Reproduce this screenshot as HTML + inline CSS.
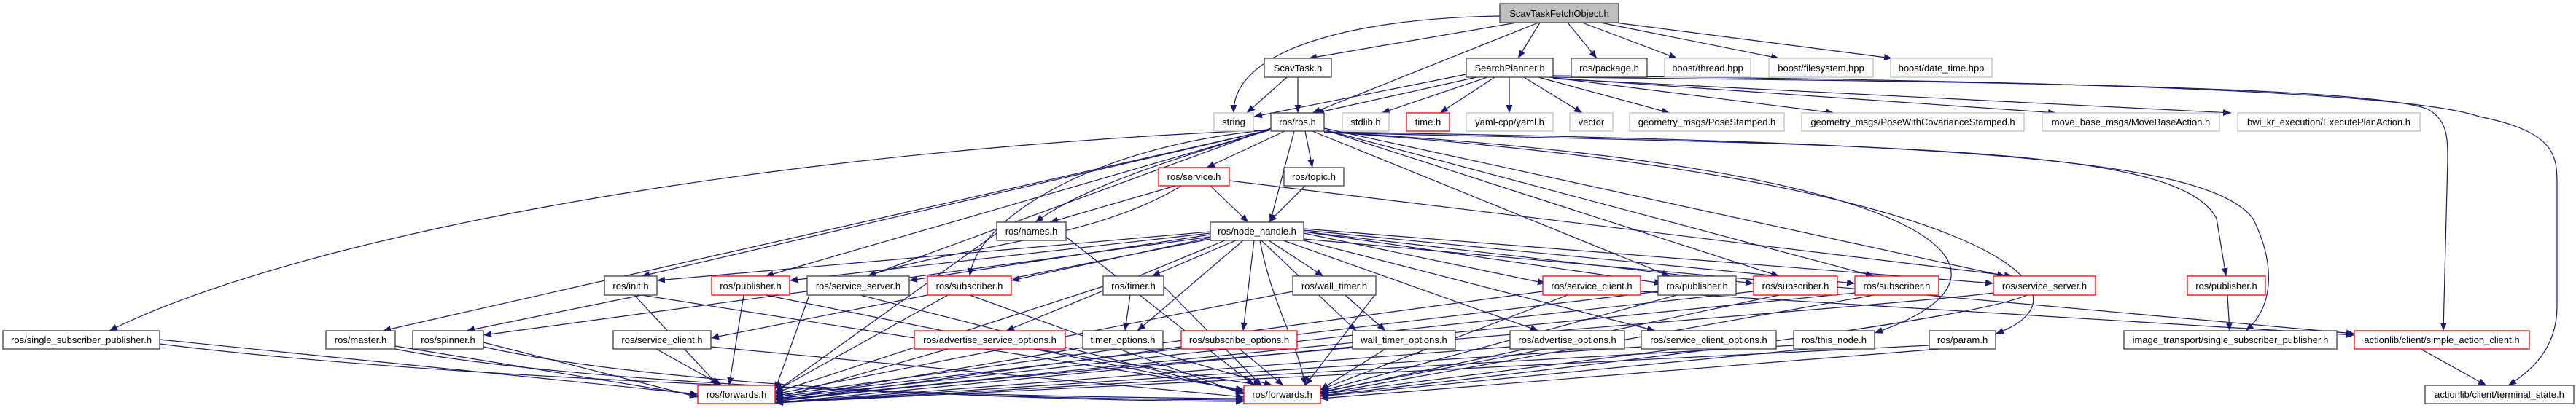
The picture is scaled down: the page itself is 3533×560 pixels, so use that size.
<!DOCTYPE html>
<html><head><meta charset="utf-8"><style>
html,body{margin:0;padding:0;background:#fff;}
svg{display:block;}
text{font-family:"Liberation Sans",sans-serif;font-size:13px;fill:#000;}
.e{stroke:#191970;stroke-width:1.2;fill:none;marker-end:url(#ar);}
</style></head><body>
<svg width="3533" height="560" viewBox="0 0 3533 560" xmlns="http://www.w3.org/2000/svg">
<defs><marker id="ar" markerUnits="userSpaceOnUse" markerWidth="12" markerHeight="10" refX="11" refY="4.5" orient="auto"><path d="M0,0 L11,4.5 L0,9 z" fill="#191970"/></marker></defs>
<g>
<!-- A edges -->
<line class="e" x1="2080" y1="31" x2="1795" y2="80"/>
<line class="e" x1="2112" y1="31" x2="2082" y2="80"/>
<line class="e" x1="2150" y1="31" x2="2190" y2="80"/>
<line class="e" x1="2170" y1="31" x2="2300" y2="80"/>
<line class="e" x1="2195" y1="31" x2="2440" y2="80"/>
<line class="e" x1="2215" y1="31" x2="2595" y2="80"/>
<line class="e" x1="2110" y1="31" x2="1800" y2="155"/>
<path class="e" d="M2057,22 C1850,25 1690,70 1692,155"/>
<!-- B -->
<line class="e" x1="1765" y1="106" x2="1710" y2="155"/>
<line class="e" x1="1780" y1="106" x2="1780" y2="155"/>
<!-- C -->
<line class="e" x1="2011" y1="102" x2="1720" y2="160"/>
<line class="e" x1="2025" y1="106" x2="1805" y2="155"/>
<line class="e" x1="2040" y1="106" x2="1895" y2="155"/>
<line class="e" x1="2050" y1="106" x2="1975" y2="155"/>
<line class="e" x1="2070" y1="106" x2="2070" y2="155"/>
<line class="e" x1="2090" y1="106" x2="2170" y2="155"/>
<line class="e" x1="2110" y1="106" x2="2290" y2="155"/>
<line class="e" x1="2125" y1="106" x2="2515" y2="155"/>
<line class="e" x1="2130" y1="107" x2="2820" y2="155"/>
<line class="e" x1="2130" y1="108" x2="3060" y2="155"/>
<path class="e" d="M2130,106 C2700,112 3250,118 3330,150 C3357,165 3357,190 3357,220 L3351,454"/>
<path class="e" d="M2130,104 C2800,110 3300,125 3400,160 C3500,180 3507,210 3507,250 L3507,420 C3507,480 3470,510 3440,529"/>
<!-- I -->
<line class="e" x1="1762" y1="180" x2="1655" y2="230"/>
<line class="e" x1="1790" y1="180" x2="1800" y2="230"/>
<line class="e" x1="1775" y1="180" x2="1742" y2="305"/>
<path class="e" d="M1743,178 C1600,220 1480,260 1420,305"/>
<line class="e" x1="1743" y1="178" x2="880" y2="379"/>
<line class="e" x1="1743" y1="178" x2="1050" y2="379"/>
<line class="e" x1="1743" y1="176" x2="1190" y2="379"/>
<path class="e" d="M1743,178 C1500,200 1340,300 1330,379"/>
<path class="e" d="M1743,178 C1000,210 400,330 150,454"/>
<line class="e" x1="1743" y1="178" x2="525" y2="454"/>
<line class="e" x1="1800" y1="180" x2="2290" y2="379"/>
<line class="e" x1="1816" y1="178" x2="2440" y2="379"/>
<line class="e" x1="1816" y1="178" x2="2570" y2="379"/>
<line class="e" x1="1816" y1="176" x2="2750" y2="379"/>
<path class="e" d="M1816,182 C2600,200 2990,200 3040,300 L3053,379"/>
<path class="e" d="M1816,181 C2700,195 3030,220 3090,300 C3120,360 3120,420 3080,454"/>
<path class="e" d="M1816,181 C2700,230 2800,380 2571,457"/>
<path class="e" d="M1816,181 C2700,240 2900,400 2737,458"/>
<!-- R,S -->
<line class="e" x1="1612" y1="255" x2="1440" y2="305"/>
<line class="e" x1="1660" y1="255" x2="1712" y2="305"/>
<path class="e" d="M1620,255 C1500,330 1300,340 1190,379"/>
<line class="e" x1="1686" y1="248" x2="2760" y2="379"/>
<line class="e" x1="1790" y1="255" x2="1740" y2="305"/>
<!-- T -->
<line class="e" x1="1367" y1="320" x2="1063" y2="538"/>
<line class="e" x1="1462" y1="325" x2="1720" y2="529"/>
<!-- U -->
<line class="e" x1="1660" y1="318" x2="901" y2="385"/>
<line class="e" x1="1660" y1="320" x2="1083" y2="385"/>
<line class="e" x1="1660" y1="322" x2="1247" y2="385"/>
<line class="e" x1="1665" y1="325" x2="1387" y2="385"/>
<line class="e" x1="1695" y1="330" x2="1580" y2="379"/>
<line class="e" x1="1740" y1="330" x2="1815" y2="379"/>
<line class="e" x1="1788" y1="320" x2="2120" y2="389"/>
<line class="e" x1="1788" y1="318" x2="2280" y2="389"/>
<line class="e" x1="1788" y1="318" x2="2405" y2="389"/>
<line class="e" x1="1788" y1="316" x2="2544" y2="389"/>
<line class="e" x1="1788" y1="314" x2="2734" y2="389"/>
<line class="e" x1="1660" y1="325" x2="663" y2="460"/>
<line class="e" x1="1665" y1="327" x2="975" y2="464"/>
<line class="e" x1="1680" y1="330" x2="1380" y2="454"/>
<line class="e" x1="1705" y1="330" x2="1560" y2="454"/>
<line class="e" x1="1720" y1="330" x2="1705" y2="454"/>
<line class="e" x1="1730" y1="330" x2="1860" y2="454"/>
<line class="e" x1="1760" y1="330" x2="2110" y2="454"/>
<line class="e" x1="1788" y1="330" x2="2270" y2="454"/>
<line class="e" x1="1788" y1="328" x2="3229" y2="458"/>
<path class="e" d="M1728,330 C1745,420 1780,470 1790,529"/>
<!-- row 6 -->
<line class="e" x1="880" y1="405" x2="640" y2="454"/>
<line class="e" x1="870" y1="405" x2="985" y2="529"/>
<line class="e" x1="880" y1="405" x2="1706" y2="535"/>
<line class="e" x1="1020" y1="405" x2="1000" y2="529"/>
<line class="e" x1="1050" y1="405" x2="1706" y2="537"/>
<line class="e" x1="1110" y1="405" x2="1063" y2="535"/>
<line class="e" x1="1180" y1="405" x2="1706" y2="539"/>
<line class="e" x1="1300" y1="405" x2="1063" y2="537"/>
<line class="e" x1="1330" y1="405" x2="1706" y2="541"/>
<line class="e" x1="1550" y1="405" x2="1543" y2="454"/>
<line class="e" x1="1513" y1="393" x2="1063" y2="539"/>
<line class="e" x1="1596" y1="393" x2="1730" y2="529"/>
<line class="e" x1="1845" y1="405" x2="1900" y2="454"/>
<line class="e" x1="1773" y1="400" x2="1063" y2="541"/>
<line class="e" x1="1887" y1="403" x2="1790" y2="529"/>
<line class="e" x1="2116" y1="400" x2="1063" y2="543"/>
<line class="e" x1="2150" y1="405" x2="1811" y2="535"/>
<line class="e" x1="2274" y1="400" x2="1063" y2="545"/>
<line class="e" x1="2300" y1="405" x2="1811" y2="537"/>
<line class="e" x1="2405" y1="400" x2="1063" y2="547"/>
<line class="e" x1="2440" y1="405" x2="1811" y2="539"/>
<line class="e" x1="2544" y1="402" x2="1063" y2="549"/>
<line class="e" x1="2570" y1="405" x2="1811" y2="541"/>
<path class="e" d="M2734,402 C2600,420 1500,500 1063,551"/>
<path class="e" d="M2780,405 C2700,440 2200,500 1811,543"/>
<line class="e" x1="3055" y1="405" x2="3058" y2="454"/>
<line class="e" x1="2250" y1="400" x2="3229" y2="460"/>
<!-- row 7 -->
<line class="e" x1="219" y1="466" x2="957" y2="541"/>
<path class="e" d="M219,472 C600,520 1300,545 1706,547"/>
<line class="e" x1="542" y1="475" x2="957" y2="543"/>
<path class="e" d="M542,479 C800,530 1400,548 1706,549"/>
<line class="e" x1="663" y1="470" x2="957" y2="545"/>
<path class="e" d="M663,476 C900,530 1400,550 1706,551"/>
<line class="e" x1="900" y1="479" x2="990" y2="529"/>
<line class="e" x1="975" y1="476" x2="1706" y2="545"/>
<line class="e" x1="1300" y1="479" x2="1063" y2="547"/>
<line class="e" x1="1420" y1="479" x2="1730" y2="529"/>
<line class="e" x1="1485" y1="477" x2="1063" y2="549"/>
<line class="e" x1="1570" y1="479" x2="1745" y2="529"/>
<line class="e" x1="1620" y1="476" x2="1063" y2="551"/>
<line class="e" x1="1700" y1="479" x2="1760" y2="529"/>
<line class="e" x1="1855" y1="476" x2="1063" y2="553"/>
<line class="e" x1="1900" y1="479" x2="1811" y2="535"/>
<line class="e" x1="2071" y1="476" x2="1063" y2="553"/>
<line class="e" x1="2120" y1="479" x2="1811" y2="538"/>
<line class="e" x1="2251" y1="476" x2="1063" y2="553"/>
<line class="e" x1="2300" y1="479" x2="1811" y2="541"/>
<line class="e" x1="2460" y1="474" x2="1063" y2="553"/>
<line class="e" x1="2480" y1="479" x2="1811" y2="544"/>
<line class="e" x1="2646" y1="474" x2="1063" y2="553"/>
<line class="e" x1="2660" y1="479" x2="1811" y2="547"/>
<line class="e" x1="3320" y1="479" x2="3410" y2="529"/>
</g>
<g stroke-width="1.3">
<rect x="2057" y="5" width="163" height="26" fill="#bfbfbf" stroke="#404040"/><text x="2138.5" y="23" text-anchor="middle">ScavTaskFetchObject.h</text>
<rect x="1734" y="80" width="92" height="26" fill="#fff" stroke="#404040"/><text x="1780" y="98" text-anchor="middle">ScavTask.h</text>
<rect x="2011" y="80" width="119" height="26" fill="#fff" stroke="#404040"/><text x="2070.5" y="98" text-anchor="middle">SearchPlanner.h</text>
<rect x="2155" y="80" width="104" height="26" fill="#fff" stroke="#404040"/><text x="2207" y="98" text-anchor="middle">ros/package.h</text>
<rect x="2283" y="80" width="118" height="26" fill="#fff" stroke="#bfbfbf"/><text x="2342" y="98" text-anchor="middle">boost/thread.hpp</text>
<rect x="2426" y="80" width="143" height="26" fill="#fff" stroke="#bfbfbf"/><text x="2497.5" y="98" text-anchor="middle">boost/filesystem.hpp</text>
<rect x="2593" y="80" width="139" height="26" fill="#fff" stroke="#bfbfbf"/><text x="2662.5" y="98" text-anchor="middle">boost/date_time.hpp</text>
<rect x="1665" y="155" width="54" height="25" fill="#fff" stroke="#bfbfbf"/><text x="1692" y="172" text-anchor="middle">string</text>
<rect x="1743" y="155" width="73" height="25" fill="#fff" stroke="#404040"/><text x="1779.5" y="172" text-anchor="middle">ros/ros.h</text>
<rect x="1841" y="155" width="64" height="25" fill="#fff" stroke="#bfbfbf"/><text x="1873" y="172" text-anchor="middle">stdlib.h</text>
<rect x="1929" y="155" width="59" height="25" fill="#fff" stroke="#ff0000"/><text x="1958.5" y="172" text-anchor="middle">time.h</text>
<rect x="2011" y="155" width="119" height="25" fill="#fff" stroke="#bfbfbf"/><text x="2070.5" y="172" text-anchor="middle">yaml-cpp/yaml.h</text>
<rect x="2153" y="155" width="59" height="25" fill="#fff" stroke="#bfbfbf"/><text x="2182.5" y="172" text-anchor="middle">vector</text>
<rect x="2235" y="155" width="212" height="25" fill="#fff" stroke="#bfbfbf"/><text x="2341" y="172" text-anchor="middle">geometry_msgs/PoseStamped.h</text>
<rect x="2471" y="155" width="305" height="25" fill="#fff" stroke="#bfbfbf"/><text x="2623.5" y="172" text-anchor="middle">geometry_msgs/PoseWithCovarianceStamped.h</text>
<rect x="2801" y="155" width="243" height="25" fill="#fff" stroke="#bfbfbf"/><text x="2922.5" y="172" text-anchor="middle">move_base_msgs/MoveBaseAction.h</text>
<rect x="3069" y="155" width="250" height="25" fill="#fff" stroke="#bfbfbf"/><text x="3194" y="172" text-anchor="middle">bwi_kr_execution/ExecutePlanAction.h</text>
<rect x="1589" y="230" width="97" height="25" fill="#fff" stroke="#ff0000"/><text x="1637.5" y="247" text-anchor="middle">ros/service.h</text>
<rect x="1761" y="230" width="82" height="25" fill="#fff" stroke="#404040"/><text x="1802" y="247" text-anchor="middle">ros/topic.h</text>
<rect x="1367" y="305" width="95" height="25" fill="#fff" stroke="#404040"/><text x="1414.5" y="322" text-anchor="middle">ros/names.h</text>
<rect x="1660" y="305" width="128" height="25" fill="#fff" stroke="#404040"/><text x="1724" y="322" text-anchor="middle">ros/node_handle.h</text>
<rect x="829" y="379" width="72" height="26" fill="#fff" stroke="#404040"/><text x="865" y="397" text-anchor="middle">ros/init.h</text>
<rect x="976" y="379" width="107" height="26" fill="#fff" stroke="#ff0000"/><text x="1029.5" y="397" text-anchor="middle">ros/publisher.h</text>
<rect x="1107" y="379" width="140" height="26" fill="#fff" stroke="#404040"/><text x="1177" y="397" text-anchor="middle">ros/service_server.h</text>
<rect x="1272" y="379" width="115" height="26" fill="#fff" stroke="#ff0000"/><text x="1329.5" y="397" text-anchor="middle">ros/subscriber.h</text>
<rect x="1513" y="379" width="83" height="26" fill="#fff" stroke="#404040"/><text x="1554.5" y="397" text-anchor="middle">ros/timer.h</text>
<rect x="1773" y="379" width="114" height="26" fill="#fff" stroke="#404040"/><text x="1830" y="397" text-anchor="middle">ros/wall_timer.h</text>
<rect x="2116" y="379" width="134" height="26" fill="#fff" stroke="#ff0000"/><text x="2183" y="397" text-anchor="middle">ros/service_client.h</text>
<rect x="2274" y="379" width="107" height="26" fill="#fff" stroke="#404040"/><text x="2327.5" y="397" text-anchor="middle">ros/publisher.h</text>
<rect x="2405" y="379" width="115" height="26" fill="#fff" stroke="#ff0000"/><text x="2462.5" y="397" text-anchor="middle">ros/subscriber.h</text>
<rect x="2544" y="379" width="115" height="26" fill="#fff" stroke="#ff0000"/><text x="2601.5" y="397" text-anchor="middle">ros/subscriber.h</text>
<rect x="2734" y="379" width="140" height="26" fill="#fff" stroke="#ff0000"/><text x="2804" y="397" text-anchor="middle">ros/service_server.h</text>
<rect x="3000" y="379" width="107" height="26" fill="#fff" stroke="#ff0000"/><text x="3053.5" y="397" text-anchor="middle">ros/publisher.h</text>
<rect x="4" y="454" width="215" height="25" fill="#fff" stroke="#404040"/><text x="111.5" y="471" text-anchor="middle">ros/single_subscriber_publisher.h</text>
<rect x="447" y="454" width="95" height="25" fill="#fff" stroke="#404040"/><text x="494.5" y="471" text-anchor="middle">ros/master.h</text>
<rect x="566" y="454" width="97" height="25" fill="#fff" stroke="#404040"/><text x="614.5" y="471" text-anchor="middle">ros/spinner.h</text>
<rect x="841" y="454" width="134" height="25" fill="#fff" stroke="#404040"/><text x="908" y="471" text-anchor="middle">ros/service_client.h</text>
<rect x="1254" y="454" width="207" height="25" fill="#fff" stroke="#ff0000"/><text x="1357.5" y="471" text-anchor="middle">ros/advertise_service_options.h</text>
<rect x="1485" y="454" width="110" height="25" fill="#fff" stroke="#404040"/><text x="1540" y="471" text-anchor="middle">timer_options.h</text>
<rect x="1620" y="454" width="159" height="25" fill="#fff" stroke="#ff0000"/><text x="1699.5" y="471" text-anchor="middle">ros/subscribe_options.h</text>
<rect x="1855" y="454" width="141" height="25" fill="#fff" stroke="#404040"/><text x="1925.5" y="471" text-anchor="middle">wall_timer_options.h</text>
<rect x="2071" y="454" width="157" height="25" fill="#fff" stroke="#404040"/><text x="2149.5" y="471" text-anchor="middle">ros/advertise_options.h</text>
<rect x="2251" y="454" width="185" height="25" fill="#fff" stroke="#404040"/><text x="2343.5" y="471" text-anchor="middle">ros/service_client_options.h</text>
<rect x="2460" y="454" width="111" height="25" fill="#fff" stroke="#404040"/><text x="2515.5" y="471" text-anchor="middle">ros/this_node.h</text>
<rect x="2646" y="454" width="91" height="25" fill="#fff" stroke="#404040"/><text x="2691.5" y="471" text-anchor="middle">ros/param.h</text>
<rect x="2913" y="454" width="292" height="25" fill="#fff" stroke="#404040"/><text x="3059" y="471" text-anchor="middle">image_transport/single_subscriber_publisher.h</text>
<rect x="3229" y="454" width="240" height="25" fill="#fff" stroke="#ff0000"/><text x="3349" y="471" text-anchor="middle">actionlib/client/simple_action_client.h</text>
<rect x="957" y="529" width="106" height="25" fill="#fff" stroke="#ff0000"/><text x="1010" y="546" text-anchor="middle">ros/forwards.h</text>
<rect x="1706" y="529" width="105" height="25" fill="#fff" stroke="#ff0000"/><text x="1758.5" y="546" text-anchor="middle">ros/forwards.h</text>
<rect x="3326" y="529" width="204" height="25" fill="#fff" stroke="#404040"/><text x="3428" y="546" text-anchor="middle">actionlib/client/terminal_state.h</text>
</g>
</svg>
</body></html>
